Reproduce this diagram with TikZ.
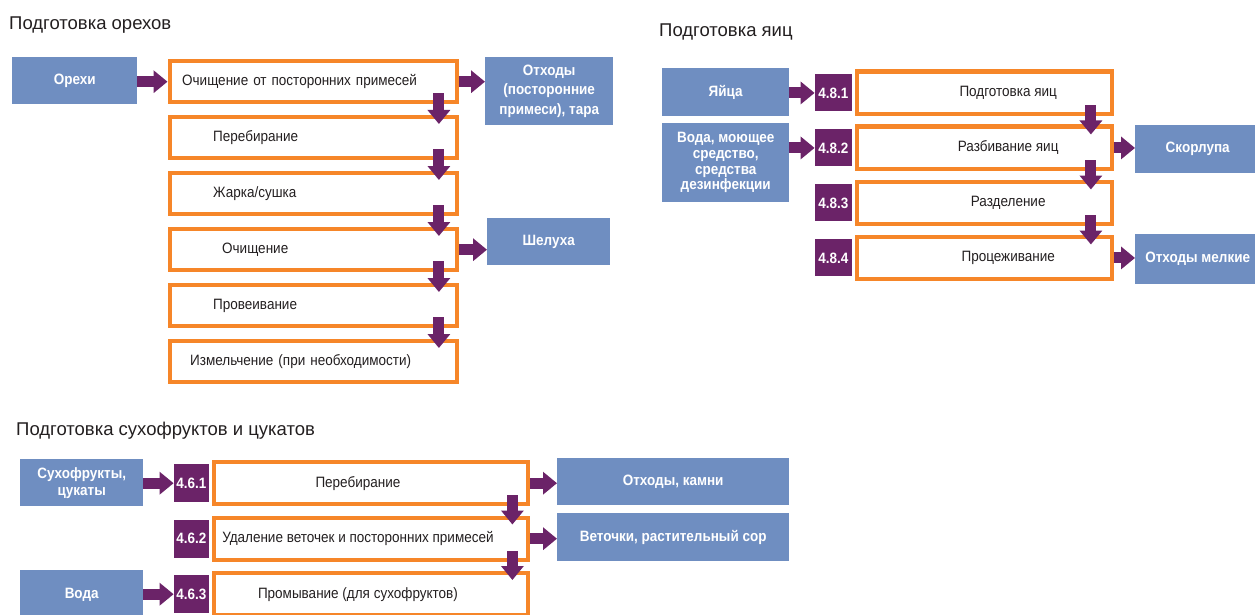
\documentclass[tikz,border=0pt]{standalone}
\usepackage{fontspec}
\setmainfont{Liberation Sans}
\newfontfamily\narrowfont{Liberation Sans}[FakeStretch=0.9]
\usetikzlibrary{arrows.meta}
\definecolor{boxblue}{RGB}{111,142,193}
\definecolor{stepplum}{RGB}{107,35,104}
\definecolor{steporange}{RGB}{246,134,41}
\definecolor{inkgray}{RGB}{35,31,32}

\begin{document}
\begin{tikzpicture}[x=1pt,y=-1pt,
  title/.style={anchor=base west, text=inkgray, inner sep=0pt, font=\fontsize{18.5}{20}\selectfont},
  input/.style={anchor=north west, fill=boxblue, text=white, inner sep=0pt, align=center,
    font=\narrowfont\bfseries\fontsize{15}{17}\selectfont},
  stepbox/.style={anchor=north west, draw=steporange, line width=4.4pt, text=inkgray,
    font=\narrowfont\fontsize{15}{17}\selectfont},
  nutstep/.style={stepbox, minimum width=287pt, minimum height=41pt, inner xsep=8pt,
    text width=271pt, align=left, execute at begin node=\hspace*{#1}},
  eggstep/.style={stepbox, minimum width=255pt, minimum height=42.5pt,
    execute at begin node=\hspace*{48pt}},
  fruitstep/.style={stepbox, minimum width=314.5pt, minimum height=42pt,
    execute at end node=\hspace*{26pt}},
  code/.style={anchor=east, fill=stepplum, text=white, inner sep=0pt,
    minimum width=#1, minimum height=37pt, font=\narrowfont\bfseries\fontsize{15}{17}\selectfont},
  flow/.style={draw=stepplum, line width=11pt, -{Triangle[length=14pt,width=22pt]}}]
\useasboundingbox (0,0) rectangle (1255,615);
\clip (0,0) rectangle (1255,615);

% Nuts
\node[title] at (9,30) {Подготовка орехов};
\node[input, minimum width=125pt, minimum height=47pt] (nuts) at (12,57) {Орехи};
\node[nutstep=4.5pt] (n1) at (167.5,59) {Очищение от посторонних примесей};
\node[nutstep=35.5pt] (n2) at (167.5,115) {Перебирание};
\node[nutstep=35.5pt] (n3) at (167.5,171) {Жарка/сушка};
\node[nutstep=44.5pt] (n4) at (167.5,227) {Очищение};
\node[nutstep=35.5pt] (n5) at (167.5,283) {Провеивание};
\node[nutstep=12.5pt] (n6) at (167.5,339) {Измельчение (при необходимости)};
\node[input, minimum width=128pt, minimum height=68pt, font=\narrowfont\bfseries\fontsize{15}{19.5}\selectfont]
  (nutwaste) at (485,57) {Отходы\\(посторонние\\примеси), тара};
\node[input, minimum width=123pt, minimum height=47pt] (husk) at (487,218) {Шелуха};

\draw[flow] (nuts.east |- n1.west) -- (n1.west);
\draw[flow] (n1.east) -- (n1.east -| nutwaste.west);
\draw[flow] (n4.east) -- (n4.east -| husk.west);
\foreach \a/\b in {n1/n2,n2/n3,n3/n4,n4/n5,n5/n6}
  \draw[flow] ([xshift=-20pt,yshift=11pt]\a.south east) -- ([xshift=-20pt,yshift=-9pt]\b.north east);

% Eggs
\node[title] at (659,37) {Подготовка яиц};
\node[input, minimum width=127pt, minimum height=48pt] (eggs) at (662,68) {Яйца};
\node[input, minimum width=127pt, minimum height=79pt, font=\narrowfont\bfseries\fontsize{15}{15.7}\selectfont]
  (eggwater) at (662,123) {Вода, моющее\\средство,\\средства\\дезинфекции};
\node[eggstep] (e1) at (854.5,69.5) {Подготовка яиц};
\node[eggstep] (e2) at (854.5,124.5) {Разбивание яиц};
\node[eggstep] (e3) at (854.5,179.5) {Разделение};
\node[eggstep] (e4) at (854.5,234.5) {Процеживание};
\foreach \i in {1,...,4}
  \node[code=37pt] (c8\i) at ([xshift=-2.5pt]e\i.west) {4.8.\i};
\node[input, minimum width=125pt, minimum height=48pt] (shell) at (1135,125) {Скорлупа};
\node[input, minimum width=125pt, minimum height=50pt] (smallwaste) at (1135,234) {Отходы мелкие};

\draw[flow] (eggs.east |- c81.west) -- (c81.west);
\draw[flow] (eggwater.east |- c82.west) -- (c82.west);
\draw[flow] (e2.east) -- (e2.east -| shell.west);
\draw[flow] (e4.east) -- (e4.east -| smallwaste.west);
\foreach \a/\b in {e1/e2,e2/e3,e3/e4}
  \draw[flow] ([xshift=-23pt,yshift=11pt]\a.south east) -- ([xshift=-23pt,yshift=-10pt]\b.north east);

% Dried fruits and candied peel
\node[title] at (16,435) {Подготовка сухофруктов и цукатов};
\node[input, minimum width=123pt, minimum height=47pt, font=\narrowfont\bfseries\fontsize{15}{17}\selectfont]
  (dried) at (20,459) {Сухофрукты,\\цукаты};
\node[input, minimum width=123pt, minimum height=50pt] (water) at (20,570) {Вода};
\node[fruitstep] (d1) at (211.5,460) {Перебирание};
\node[fruitstep] (d2) at (211.5,515.5) {Удаление веточек и посторонних примесей};
\node[fruitstep] (d3) at (211.5,571) {Промывание (для сухофруктов)};
\foreach \i in {1,2,3}
  \node[code=35pt, minimum height=38pt] (c6\i) at ([xshift=-2.5pt]d\i.west) {4.6.\i};
\node[input, minimum width=232pt, minimum height=47pt] (stones) at (557,458) {Отходы, камни};
\node[input, minimum width=232pt, minimum height=48pt] (twigs) at (557,513) {Веточки, растительный сор};

\draw[flow] (dried.east |- c61.west) -- (c61.west);
\draw[flow] (water.east |- c63.west) -- (c63.west);
\draw[flow] (d1.east) -- (d1.east -| stones.west);
\draw[flow] (d2.east) -- (d2.east -| twigs.west);
\foreach \a/\b in {d1/d2,d2/d3}
  \draw[flow] ([xshift=-18pt,yshift=11pt]\a.south east) -- ([xshift=-18pt,yshift=-9pt]\b.north east);
\end{tikzpicture}
\end{document}
